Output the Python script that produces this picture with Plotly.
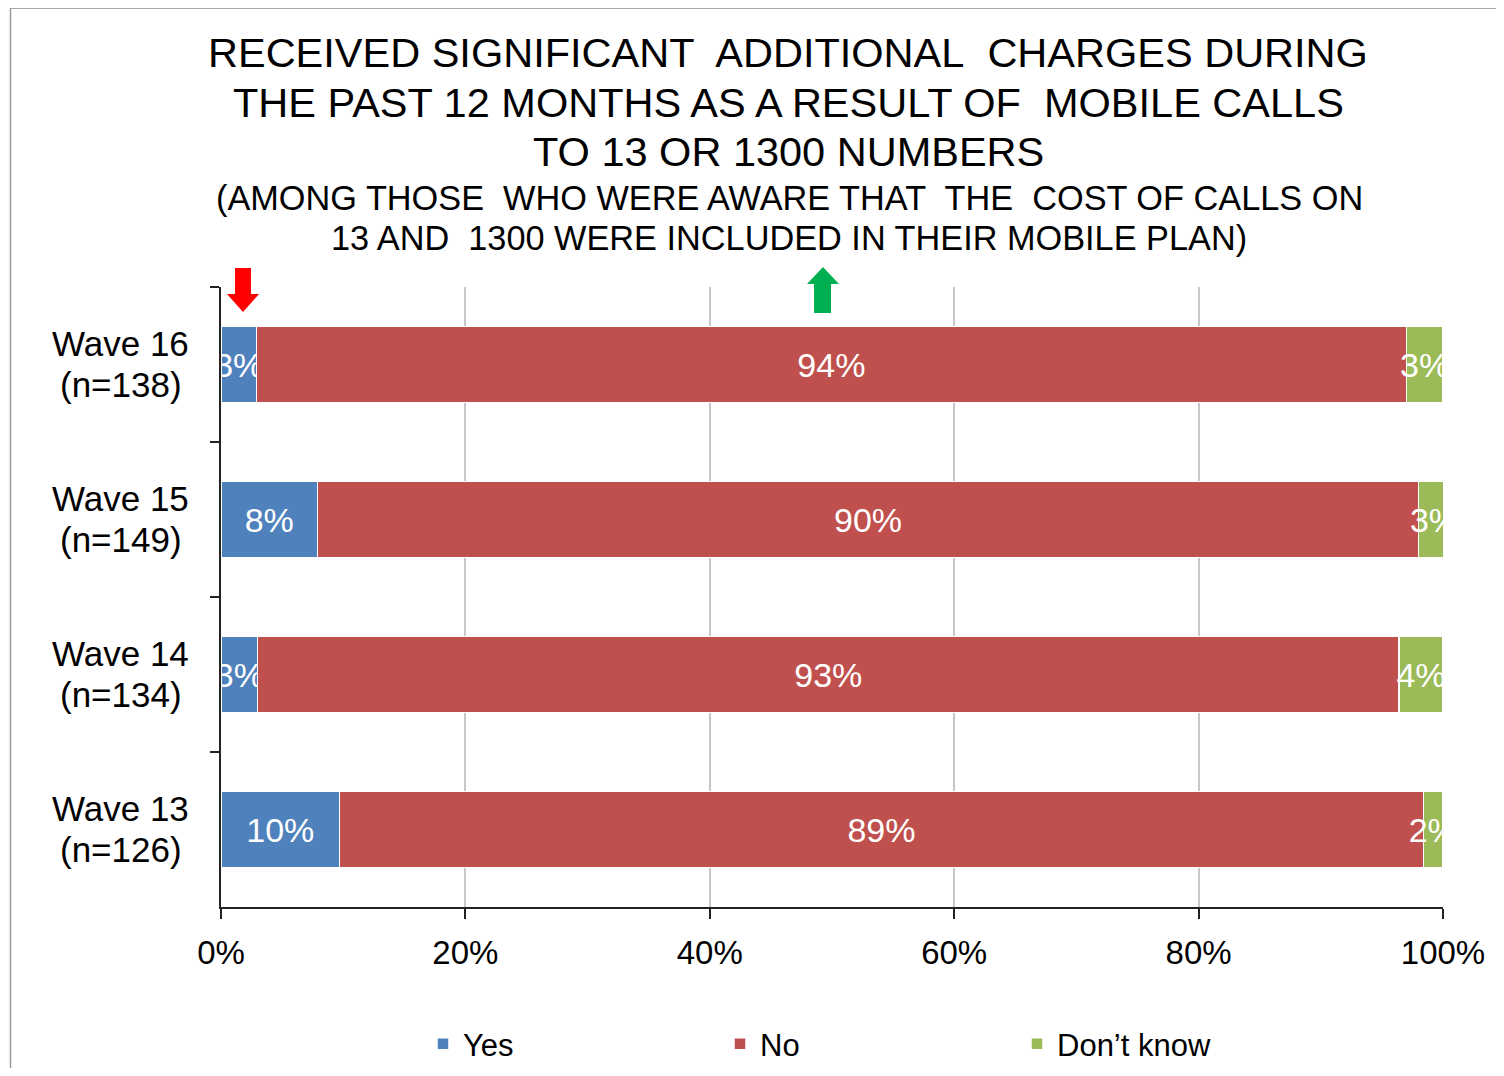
import plotly.graph_objects as go

# ---- data ----
waves = ["Wave 16", "Wave 15", "Wave 14", "Wave 13"]
sample_sizes = ["(n=138)", "(n=149)", "(n=134)", "(n=126)"]
yes_vals = [2.9, 7.9, 3.0, 9.7]
no_vals = [94.1, 90.1, 93.4, 88.7]
dk_vals = [3.0, 2.6, 3.6, 1.6]
series_names = ["Yes", "No", "Don\u2019t know"]
x_ticks = [0, 20, 40, 60, 80, 100]
x_tick_labels = ["0%", "20%", "40%", "60%", "80%", "100%"]
title_lines = [
    "RECEIVED SIGNIFICANT\u00a0 ADDITIONAL\u00a0 CHARGES DURING",
    "THE PAST 12 MONTHS AS A RESULT OF\u00a0 MOBILE CALLS",
    "TO 13 OR 1300 NUMBERS",
]
subtitle_lines = [
    "(AMONG THOSE\u00a0 WHO WERE AWARE THAT\u00a0 THE\u00a0 COST OF CALLS ON",
    "13 AND\u00a0 1300 WERE INCLUDED IN THEIR MOBILE PLAN)",
]

# ---- layout geometry (page body has an 8px margin on every side) ----
OFF = 8
W, H = 1504 - 2 * OFF, 1076 - 2 * OFF
L, T = 221 - OFF, 287 - OFF
PW, PH = 1222, 620
R, B = W - L - PW, H - T - PH


def px(xp):
    return (xp - OFF - L) / PW


def py(yp):
    return (T + PH - (yp - OFF)) / PH


FONT = "Liberation Sans, Arial, sans-serif"
colors = ["#4F81BD", "#C0504D", "#9BBB59"]

fig = go.Figure()
for name, vals, col in zip(series_names, [yes_vals, no_vals, dk_vals], colors):
    fig.add_trace(go.Bar(
        y=waves, x=vals, name=name, orientation="h",
        marker=dict(color=col, line=dict(color="white", width=1.5)),
        texttemplate="%{x:.0f}%", textposition="inside", textangle=0,
        insidetextanchor="middle", constraintext="none",
        textfont=dict(color="white", size=34, family=FONT),
        cliponaxis=True, hoverinfo="skip",
    ))

annotations = []
for txt, yc in zip(title_lines, [52.5, 102, 151]):
    annotations.append(dict(text=txt, xref="paper", yref="paper", x=px(788), y=py(yc),
                            xanchor="center", yanchor="middle", showarrow=False,
                            font=dict(size=41.5, color="black", family=FONT)))
for txt, yc in zip(subtitle_lines, [197.5, 237.5]):
    annotations.append(dict(text=txt, xref="paper", yref="paper", x=px(789), y=py(yc),
                            xanchor="center", yanchor="middle", showarrow=False,
                            font=dict(size=34.3, color="black", family=FONT)))
for w, n in zip(waves, sample_sizes):
    annotations.append(dict(text=w, xref="paper", yref="y", x=px(121), y=w,
                            xanchor="center", yanchor="middle", yshift=21, showarrow=False,
                            font=dict(size=35, color="black", family=FONT)))
    annotations.append(dict(text=n, xref="paper", yref="y", x=px(121), y=w,
                            xanchor="center", yanchor="middle", yshift=-20, showarrow=False,
                            font=dict(size=35, color="black", family=FONT)))


def path_from(points):
    return "M " + " L ".join(f"{px(a):.5f},{py(b):.5f}" for a, b in points) + " Z"


red_arrow = [(235, 268), (251, 268), (251, 294), (259, 294), (243, 312), (227, 294), (235, 294)]
green_arrow = [(814, 313), (831, 313), (831, 284), (839, 284), (823, 267), (807, 284), (814, 284)]

shapes = [
    dict(type="path", xref="paper", yref="paper", path=path_from(red_arrow),
         fillcolor="#FF0000", line=dict(width=0)),
    dict(type="path", xref="paper", yref="paper", path=path_from(green_arrow),
         fillcolor="#00B050", line=dict(width=0)),
    dict(type="line", xref="paper", yref="paper", x0=px(10), x1=px(OFF + W), y0=py(7.5), y1=py(7.5),
         line=dict(color="#555555", width=2)),
    dict(type="line", xref="paper", yref="paper", x0=px(10.5), x1=px(10.5), y0=py(7.5), y1=py(OFF + H),
         line=dict(color="#9a9a9a", width=1.5)),
]

fig.update_layout(
    width=W, height=H,
    margin=dict(l=L, r=R, t=T, b=B, pad=0, autoexpand=False),
    paper_bgcolor="white", plot_bgcolor="white",
    barmode="stack", bargap=0.51,
    font=dict(family=FONT, color="black"),
    uniformtext=dict(minsize=34, mode="show"),
    showlegend=True,
    legend=dict(orientation="h", x=px(423), y=py(1044), xanchor="left", yanchor="middle",
                entrywidth=252, entrywidthmode="pixels", traceorder="normal",
                font=dict(size=31, color="black", family=FONT), bgcolor="rgba(0,0,0,0)"),
    annotations=annotations,
    shapes=shapes,
    xaxis=dict(range=[0, 100], tickvals=x_ticks, ticktext=x_tick_labels,
               showgrid=True, gridcolor="#C8C8C8", gridwidth=1.5,
               showline=True, linecolor="#222222", linewidth=2,
               ticks="outside", ticklen=10, tickwidth=2, tickcolor="#222222",
               ticklabelstandoff=5, automargin=False,
               tickfont=dict(size=33, color="black", family=FONT),
               zeroline=False, fixedrange=True),
    yaxis=dict(categoryorder="array", categoryarray=waves, autorange="reversed",
               showticklabels=False, showgrid=False, zeroline=False, automargin=False,
               showline=True, linecolor="#222222", linewidth=2,
               ticks="outside", tickson="boundaries", ticklen=9, tickwidth=2, tickcolor="#222222",
               fixedrange=True),
)

fig.write_html("out.html")
